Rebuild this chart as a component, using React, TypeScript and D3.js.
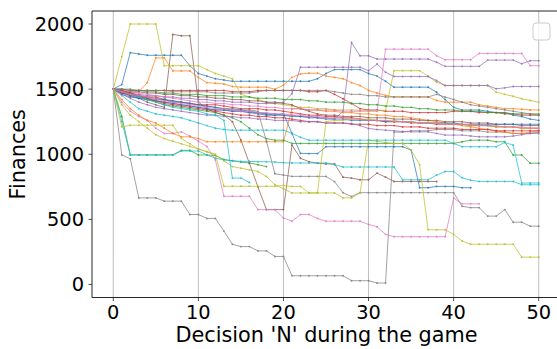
import * as d3 from 'd3'

const W = 557
const H = 349
const M = { l: 92, r: 560, t: 11, b: 297.5 }

const xTicks = [0, 10, 20, 30, 40, 50]
const yTicks = [0, 500, 1000, 1500, 2000]

// one value per decision
const blueHigh = [
  1500, 1535, 1780, 1770, 1760, 1760, 1760, 1760, 1760, 1680,
  1620, 1600, 1580, 1570, 1560, 1560, 1560, 1560, 1560, 1560,
  1560, 1560, 1560, 1560, 1580, 1620, 1650, 1650, 1650, 1650,
  1620, 1600, 1560, 1515, 1515, 1515, 1515, 1515, 1477, 1420,
  1360, 1340, 1340, 1340, 1330, 1320, 1320, 1300, 1290, 1270,
  1260,
]
const orangeHigh = [
  1500, 1480, 1470, 1480, 1550, 1740, 1740, 1640, 1640, 1640,
  1590, 1550, 1545, 1540, 1520, 1515, 1515, 1515, 1515, 1500,
  1530, 1590, 1617, 1622, 1622, 1600, 1590, 1580, 1550, 1528,
  1490, 1470, 1452, 1440, 1440, 1440, 1440, 1440, 1413, 1400,
  1400, 1400, 1400, 1380, 1370, 1360, 1350, 1350, 1345, 1340,
  1340,
]
const greenLow = [
  1500, 1290, 995, 995, 995, 995, 995, 995, 1030, 1030,
  995, 995, 990, 960, 950, 940, 933, 920, 905,
]
const redHigh = [
  1500, 1500, 1490, 1490, 1490, 1490, 1490, 1490, 1490, 1490,
  1490, 1490, 1490, 1490, 1480, 1480, 1480, 1490, 1490, 1490,
  1490, 1490, 1490, 1480, 1480, 1490, 1460, 1426, 1390, 1350,
  1340, 1340, 1330, 1330, 1330, 1320, 1320, 1320, 1320, 1320,
  1330, 1330, 1330, 1320, 1320, 1320, 1310, 1310, 1300, 1300,
  1300,
]
const purpleSpike = [
  1500, 1470, 1450, 1430, 1420, 1410, 1400, 1390, 1380, 1370,
  1360, 1350, 1340, 1340, 1330, 1330, 1320, 1320, 1310, 1310,
  1300, 1300, 1290, 1290, 1280, 1280, 1270, 1330, 1858, 1756,
  1756, 1731, 1731, 1731, 1731, 1731, 1731, 1731, 1706, 1675,
  1675, 1675, 1675, 1675, 1723, 1723, 1723, 1723, 1695, 1718,
  1718,
]
const brownSpike = [
  1500, 1470, 1450, 1430, 1400, 1380, 1360, 1920, 1910, 1910,
  1400, 1350, 1320, 1300, 1250, 1109, 930, 750, 575, 575,
  575, 1070, 969, 943, 931, 926, 926, 824, 817, 804,
  804, 855, 824, 791, 791, 791, 791, 791, 791,
]
const pinkLow = [
  1500, 1400, 1330, 1290, 1260, 1200, 1160, 1160, 1172, 1140,
  1100, 1060, 956, 677, 677, 677, 677, 575, 575, 575,
  510, 486, 537, 537, 507, 486, 486, 486, 486, 486,
  461, 443, 385, 367, 367, 367, 367, 367, 367, 367,
  664, 619, 619, 619,
]
const grayBottom = [
  1500, 995, 965, 665, 665, 665, 640, 640, 640, 537,
  537, 507, 507, 410, 309, 291, 291, 258, 258, 215,
  215, 67, 67, 67, 67, 67, 67, 67, 29, 29,
  29, 11, 11, 1170, 1170, 1180, 1180, 1180, 1190, 1190,
  1190, 1180, 1180, 1180, 1170, 1170, 1170, 1160, 1160, 1160,
  1160,
]
const oliveTop = [
  1500, 1750, 2000, 2000, 2000, 2000, 1680, 1680, 1680, 1680,
  1680, 1650, 1620, 1600, 1580, 1460, 1440, 1420, 1400, 1390,
  1380, 1370, 1360, 1360, 1350, 1350, 1340, 1340, 1340, 1337,
  1337, 1337, 1337, 1642, 1642, 1642, 1642, 1600, 1553, 1528,
  1528, 1528, 1528, 1528, 1528, 1477, 1460, 1445, 1426, 1413,
  1400,
]
const cyanLow = [
  1500, 1250, 995, 995, 995, 995, 995, 995, 1025, 1025,
  1025, 995, 970, 956, 950, 945, 945, 943, 943, 940,
  935, 933, 933, 933, 933, 933, 920, 902, 902, 902,
  902, 902, 902, 902, 804, 804, 804, 804, 840, 867,
  867, 819, 800, 791, 791, 791, 791, 791, 766, 766,
  766,
]
const blueMid = [
  1500, 1460, 1440, 1430, 1420, 1410, 1400, 1390, 1380, 1370,
  1360, 1350, 1340, 1340, 1330, 1330, 1320, 1310, 1300, 1300,
  1312, 1160, 1007, 1005, 1005, 1058, 1058, 1058, 1058, 1058,
  1058, 1058, 1058, 1058, 1058, 1032, 743, 743, 753, 753,
  753, 743, 743,
]
const orangeLow = [
  1500, 1420, 1350, 1300, 1260, 1240, 1200, 1160, 1134, 1134,
  1120, 1096, 1096, 1096, 1096, 1096, 1096, 1096, 1096, 1096,
  1096, 1350, 1350, 1340, 1340, 1330, 1330, 1320, 1320, 1310,
  1310, 1300, 1300, 1290, 1290, 1280, 1270, 1260, 1250, 1240,
  1230, 1220, 1210, 1200, 1190, 1180, 1170, 1160, 1160, 1170,
  1180,
]
const greenMid = [
  1500, 1480, 1460, 1440, 1420, 1400, 1380, 1370, 1360, 1350,
  1340, 1330, 1320, 1300, 1280, 1250, 1200, 1150, 1120, 1108,
  1108, 1083, 1083, 1083, 1083, 1083, 1083, 1083, 1083, 1083,
  1083, 1083, 1083, 1083, 1083, 1083, 1083, 1083, 1083, 1083,
  1083, 1096, 1108, 1108, 1108, 1096, 1096, 994, 994, 931,
  931,
]
const redMid = [
  1500, 1470, 1460, 1450, 1440, 1440, 1420, 1400, 1400, 1390,
  1380, 1380, 1380, 1370, 1360, 1350, 1350, 1350, 1340, 1340,
  1330, 1320, 1310, 1300, 1300, 1290, 1290, 1280, 1280, 1270,
  1260, 1260, 1250, 1250, 1250, 1240, 1240, 1240, 1230, 1230,
  1230, 1230, 1220, 1220, 1220, 1210, 1210, 1210, 1200, 1200,
  1200,
]
const purpleHigh = [
  1500, 1480, 1470, 1460, 1450, 1450, 1440, 1440, 1430, 1430,
  1420, 1420, 1410, 1410, 1400, 1400, 1400, 1390, 1390, 1390,
  1400, 1465, 1668, 1668, 1668, 1668, 1668, 1668, 1668, 1668,
  1642, 1693, 1630, 1597, 1597, 1597, 1597, 1597, 1566, 1528,
  1528, 1528, 1528, 1528, 1528, 1503, 1510, 1520, 1520, 1520,
  1520,
]
const brownMid = [
  1500, 1490, 1480, 1480, 1470, 1470, 1460, 1460, 1450, 1450,
  1440, 1440, 1430, 1430, 1420, 1420, 1410, 1410, 1400, 1400,
  1390, 1380, 1350, 1330, 1310, 1300, 1300, 1290, 1290, 1290,
  1280, 1280, 1280, 1270, 1270, 1270, 1260, 1260, 1260, 1250,
  1250, 1250, 1240, 1240, 1240, 1230, 1230, 1230, 1220, 1220,
  1220,
]
const pinkHigh = [
  1500, 1490, 1480, 1470, 1460, 1450, 1440, 1430, 1420, 1410,
  1400, 1400, 1390, 1390, 1380, 1380, 1370, 1370, 1360, 1360,
  1350, 1350, 1350, 1340, 1340, 1340, 1340, 1330, 1330, 1330,
  1330, 1330, 1807, 1807, 1807, 1807, 1807, 1807, 1756, 1726,
  1726, 1726, 1726, 1774, 1774, 1774, 1774, 1774, 1774, 1680,
  1680,
]
const grayMid = [
  1500, 1480, 1460, 1450, 1440, 1430, 1420, 1410, 1400, 1390,
  1380, 1370, 1360, 1350, 1350, 1340, 1340, 1330, 1100, 850,
  840, 830, 830, 830, 830, 830, 790, 705, 675, 705,
  705, 705, 705, 705, 705, 705, 705, 705, 705, 705,
  705, 600, 590, 590, 525, 525, 575, 478, 478, 448,
  448,
]
const oliveLow = [
  1500, 1210, 1223, 1223, 1223, 1223, 1223, 1223, 1122, 1080,
  1040, 1020, 995, 950, 905, 893, 880, 867, 829, 766,
  735, 703, 703, 703, 703, 703, 703, 665, 665, 703,
  1108, 1100, 1090, 1083, 1083, 1032, 920, 420, 420, 420,
  385, 334, 309, 309, 309, 309, 309, 309, 210, 210,
  210,
]
const cyanMid = [
  1500, 1450, 1400, 1350, 1330, 1310, 1300, 1290, 1280, 1260,
  1240, 1220, 1200, 1190, 1185, 1185, 1185, 1185, 1185, 1185,
  1185, 1160, 1130, 1108, 1108, 1108, 1108, 1108, 1108, 1108,
  1108, 1108, 1108, 1108, 1108, 1108, 1108, 1108, 1108, 1108,
  1083, 1058, 1058, 1058, 1058, 1058, 1090, 1070, 779, 779,
  779,
]
const blueBand = [
  1500, 1480, 1460, 1440, 1430, 1420, 1420, 1410, 1400, 1390,
  1380, 1370, 1360, 1350, 1340, 1340, 1330, 1320, 1310, 1300,
  1300, 1290, 1290, 1280, 1280, 1270, 1270, 1270, 1260, 1260,
  1260, 1260, 1250, 1250, 1250, 1250, 1240, 1240, 1240, 1240,
  1240, 1230, 1230, 1230, 1230, 1230, 1230, 1230, 1230, 1230,
  1230,
]
const greenBand = [
  1500, 1500, 1490, 1490, 1480, 1480, 1470, 1470, 1460, 1460,
  1460, 1450, 1450, 1450, 1440, 1440, 1440, 1430, 1430, 1430,
  1420, 1420, 1420, 1410, 1410, 1400, 1400, 1400, 1390, 1390,
  1380, 1380, 1370, 1370, 1360, 1360, 1350, 1350, 1340, 1340,
  1340, 1330, 1330, 1330, 1320, 1320, 1320, 1310, 1310, 1310,
  1310,
]
const redBand = [
  1500, 1490, 1470, 1450, 1430, 1410, 1390, 1380, 1370, 1360,
  1350, 1340, 1330, 1320, 1310, 1300, 1300, 1290, 1290, 1280,
  1280, 1270, 1260, 1250, 1250, 1240, 1240, 1240, 1230, 1230,
  1230, 1220, 1220, 1220, 1210, 1210, 1210, 1200, 1200, 1200,
  1200, 1190, 1190, 1190, 1190, 1180, 1180, 1180, 1180, 1180,
  1180,
]
const purpleBand = [
  1500, 1460, 1430, 1400, 1380, 1360, 1350, 1340, 1330, 1320,
  1310, 1300, 1300, 1290, 1290, 1280, 1280, 1270, 1270, 1260,
  1260, 1260, 1250, 1250, 1250, 1240, 1240, 1240, 1236, 1220,
  1198, 1190, 1185, 1180, 1175, 1172, 1172, 1172, 1160, 1147,
  1147, 1147, 1140, 1134, 1134, 1134, 1134, 1140, 1150, 1160,
  1170,
]
const grayBand = [
  1500, 1500, 1500, 1490, 1490, 1490, 1490, 1480, 1480, 1480,
  1480, 1480, 1470, 1470, 1470, 1470, 1470, 1480, 1490, 1490,
  1490, 1490, 1490, 1490, 1490, 1490, 1480, 1470, 1460, 1460,
  1450, 1450, 1440, 1440, 1440, 1440, 1440, 1440, 1460, 1439,
  1420, 1400, 1380, 1370, 1360, 1350, 1340, 1330, 1320, 1310,
  1300,
]
const oliveMid = [
  1500, 1380, 1300, 1250, 1200, 1150, 1120, 1100, 1080, 1060,
  1040, 1020, 1000, 754, 754, 754, 754, 754, 754, 754,
  760, 753, 753, 703, 703, 1250, 1260, 1260, 1270, 1270,
  1270, 1260, 1260, 1260, 1250, 1250, 1240, 1240, 1240, 1230,
  1230, 1230, 1220, 1220, 1220, 1210, 1210, 1210, 1200, 1200,
  1200,
]
const cyanShort = [
  1500, 1480, 1460, 1440, 1420, 1400, 1380, 1360, 1350, 1340,
  1330, 1310, 1300, 1260, 817, 817, 783,
]
const pinkBand = [
  1500, 1480, 1460, 1450, 1440, 1420, 1410, 1400, 1390, 1380,
  1370, 1360, 1350, 1350, 1340, 1330, 1330, 1320, 1320, 1310,
  1310, 1300, 1300, 1290, 1290, 1280, 1280, 1280, 1270, 1270,
  1260, 1260, 1260, 1250, 1250, 1250, 1240, 1240, 1240, 1230,
  1230, 1230, 1230, 1220, 1220, 1220, 1210, 1210, 1210, 1200,
  1200,
]

const C = {
  blue: '#1f77b4', orange: '#ff7f0e', green: '#2ca02c', red: '#d62728', purple: '#9467bd',
  brown: '#8c564b', pink: '#e377c2', gray: '#7f7f7f', olive: '#bcbd22', cyan: '#17becf',
}

const series: { color: string; values: number[] }[] = [
  { color: C.blue, values: blueHigh },
  { color: C.orange, values: orangeHigh },
  { color: C.green, values: greenLow },
  { color: C.red, values: redHigh },
  { color: C.purple, values: purpleSpike },
  { color: C.brown, values: brownSpike },
  { color: C.pink, values: pinkLow },
  { color: C.gray, values: grayBottom },
  { color: C.olive, values: oliveTop },
  { color: C.cyan, values: cyanLow },
  { color: C.blue, values: blueMid },
  { color: C.orange, values: orangeLow },
  { color: C.green, values: greenMid },
  { color: C.red, values: redMid },
  { color: C.purple, values: purpleHigh },
  { color: C.brown, values: brownMid },
  { color: C.pink, values: pinkHigh },
  { color: C.gray, values: grayMid },
  { color: C.olive, values: oliveLow },
  { color: C.cyan, values: cyanMid },
  { color: C.blue, values: blueBand },
  { color: C.green, values: greenBand },
  { color: C.red, values: redBand },
  { color: C.purple, values: purpleBand },
  { color: C.gray, values: grayBand },
  { color: C.olive, values: oliveMid },
  { color: C.cyan, values: cyanShort },
  { color: C.pink, values: pinkBand },
]

const FONT = '"DejaVu Sans", sans-serif'

export default function App() {
  const x = d3.scaleLinear().domain([-2.5, 52.5]).range([M.l, M.r])
  const y = d3.scaleLinear().domain([-100, 2100]).range([M.b, M.t])
  const line = d3.line<number>().x((_, i) => x(i)).y((v) => y(v))

  return (
    <div style={{ position: 'fixed', left: 0, top: 0 }}>
      <svg width={W} height={H} style={{ display: 'block', background: '#fff' }}>
        <defs>
          <clipPath id="plot">
            <rect x={M.l} y={M.t} width={M.r - M.l} height={M.b - M.t} />
          </clipPath>
        </defs>

        {xTicks.map((t) => (
          <line key={'g' + t} x1={x(t)} x2={x(t)} y1={M.t} y2={M.b} stroke="#b0b0b0" strokeWidth={0.8} />
        ))}

        <g clipPath="url(#plot)">
          {series.map((s, k) => (
            <g key={k} opacity={0.9}>
              <path d={line(s.values) ?? ''} fill="none" stroke={s.color} strokeWidth={0.8} strokeLinejoin="round" />
              {s.values.map((v, i) => (
                <circle key={i} cx={x(i)} cy={y(v)} r={0.95} fill={s.color} />
              ))}
            </g>
          ))}
        </g>

        {/* spines */}
        <line x1={M.l} x2={M.l} y1={M.t} y2={M.b} stroke="#262626" strokeWidth={1} />
        <line x1={M.l} x2={W} y1={M.b} y2={M.b} stroke="#262626" strokeWidth={1} />
        <line x1={M.l} x2={W} y1={M.t} y2={M.t} stroke="#262626" strokeWidth={1} />

        {xTicks.map((t) => (
          <g key={'x' + t}>
            <line x1={x(t)} x2={x(t)} y1={M.b} y2={M.b + 3.5} stroke="#262626" strokeWidth={0.8} />
            <text x={x(t)} y={319} textAnchor="middle" fontFamily={FONT} fontSize={19.4} fill="#000">{t}</text>
          </g>
        ))}
        {yTicks.map((t) => (
          <g key={'y' + t}>
            <line x1={M.l - 3.5} x2={M.l} y1={y(t)} y2={y(t)} stroke="#262626" strokeWidth={0.8} />
            <text x={84} y={y(t)} dy="0.35em" textAnchor="end" fontFamily={FONT} fontSize={19.4} fill="#000">{t}</text>
          </g>
        ))}

        <text x={(M.l + 560) / 2 + 0.5} y={342} textAnchor="middle" fontFamily={FONT} fontSize={20.8} fill="#000">
          Decision 'N' during the game
        </text>
        <text transform={`translate(25,${(M.t + M.b) / 2}) rotate(-90)`} textAnchor="middle" fontFamily={FONT} fontSize={20.8} fill="#000">
          Finances
        </text>

        {/* empty legend frame */}
        <rect x={533} y={23} width={17} height={17} rx={3} fill="#fff" fillOpacity={0.8} stroke="#cccccc" strokeWidth={1} />
      </svg>
    </div>
  )
}
